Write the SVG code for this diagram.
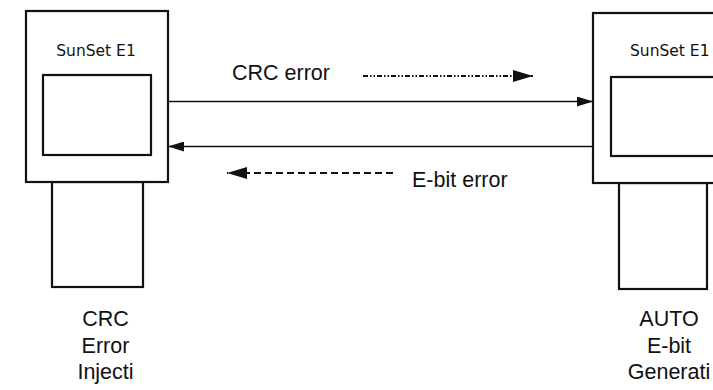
<svg xmlns="http://www.w3.org/2000/svg" width="713" height="390" viewBox="0 0 713 390">
  <style>
    .box { fill: #fff; stroke: #111; stroke-width: 2.2; }
    .brand { font-family: "DejaVu Sans", "Liberation Sans", sans-serif; font-size: 15.5px; fill: #111; }
    .lbl { font-family: "Liberation Sans", Arial, sans-serif; font-size: 21.5px; fill: #111; }
    .wire { stroke: #111; stroke-width: 1.6; fill: none; }
    .hint { stroke: #111; stroke-width: 1.8; fill: none; }
  </style>
  <defs>
    <marker id="head" viewBox="0 0 16 10" refX="16" refY="5" markerWidth="16" markerHeight="10" markerUnits="userSpaceOnUse" orient="auto">
      <path d="M0,0 L16,5 L0,10 Z" fill="#111"/>
    </marker>
    <marker id="headBig" viewBox="0 0 20 12" refX="20" refY="6" markerWidth="20" markerHeight="12" markerUnits="userSpaceOnUse" orient="auto">
      <path d="M0,0 L20,6 L0,12 Z" fill="#111"/>
    </marker>
  </defs>

  <!-- left test set: CRC error injection -->
  <g id="set-left">
    <rect class="box" x="52" y="182" width="91" height="105"/>
    <rect class="box" x="26" y="11" width="142" height="171"/>
    <rect class="box" x="43" y="75" width="108" height="80"/>
    <text class="brand" x="96" y="56" text-anchor="middle">SunSet E1</text>
    <text class="lbl" x="105.5" y="326" text-anchor="middle">CRC</text>
    <text class="lbl" x="105.5" y="353" text-anchor="middle">Error</text>
    <text class="lbl" x="105.5" y="379" text-anchor="middle">Injecti</text>
  </g>

  <!-- right test set: automatic E-bit generation -->
  <g id="set-right">
    <rect class="box" x="619" y="183" width="88" height="106"/>
    <rect class="box" x="593" y="13" width="140" height="170"/>
    <rect class="box" x="611" y="77" width="120" height="79"/>
    <text class="brand" x="630" y="56">SunSet E1</text>
    <text class="lbl" x="669" y="326" text-anchor="middle">AUTO</text>
    <text class="lbl" x="669" y="353" text-anchor="middle">E-bit</text>
    <text class="lbl" x="669" y="379" text-anchor="middle">Generati</text>
  </g>

  <!-- links between the two sets -->
  <g id="connectors">
    <line class="wire" x1="168" y1="101.5" x2="593" y2="101.5" marker-end="url(#head)"/>
    <line class="wire" x1="593" y1="146.5" x2="168" y2="146.5" marker-end="url(#head)"/>
    <line class="hint" x1="363" y1="76" x2="533" y2="76" stroke-dasharray="5 2 1.5 2 1.5 2" marker-end="url(#headBig)"/>
    <line class="hint" x1="393" y1="173" x2="227" y2="173" stroke-dasharray="7 4" marker-end="url(#headBig)"/>
  </g>

  <g id="link-labels">
    <text class="lbl" x="232" y="80">CRC error</text>
    <text class="lbl" x="412" y="187">E-bit error</text>
  </g>
</svg>
